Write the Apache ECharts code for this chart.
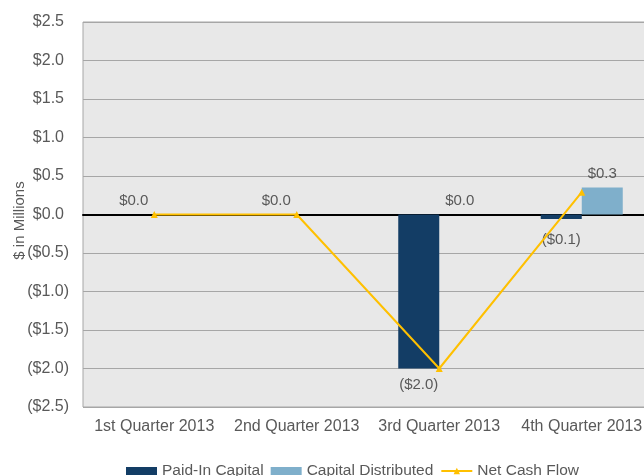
<!DOCTYPE html>
<html lang="en">
<head>
  <meta charset="utf-8">
  <title>Cash Flow by Quarter</title>
  <style>
    * { margin: 0; padding: 0; }
    #chart-container { width: 644px; height: 476px; overflow: hidden; }
  </style>
</head>
<body>
  <div id="chart-container"></div>
  <script src="https://fastly.jsdelivr.net/npm/echarts@6/dist/echarts.min.js"></script>
  <script>
    var quarters = ['1st Quarter 2013', '2nd Quarter 2013', '3rd Quarter 2013', '4th Quarter 2013'];
    var paidIn = [0, 0, -2.0, -0.06];
    var distributed = [null, null, 0, 0.35];
    var netCash = [0, 0, -2.0, 0.29];

    var dom = document.getElementById('chart-container');
    var myChart = echarts.init(dom, null, { renderer: 'canvas' });

    var textColor = '#595959';
    var font = '"Liberation Sans", Arial, sans-serif';

    function money(v) {
      if (v < 0) return '($' + Math.abs(v).toFixed(1) + ')';
      return '$' + v.toFixed(1);
    }

    // positive numbers keep a gap the width of ")" like the excel format
    function axisMoney(v) {
      if (v < 0) return money(v);
      return '{pos|' + money(v) + '}';
    }

    // negative bars get their label underneath
    function withLabels(arr) {
      return arr.map(function (v) {
        if (v === null) return null;
        if (v < 0) {
          return { value: v, label: { position: 'bottom', distance: v > -0.5 ? 13 : 9 } };
        }
        return { value: v, label: { position: 'top', distance: 6 } };
      });
    }

    var option = {
      textStyle: { fontFamily: font },
      grid: {
        left: 83, top: 22, width: 570, height: 385,
        outerBoundsMode: 'none',
        containLabel: false,
        show: true, backgroundColor: '#E8E8E8', borderColor: '#A6A6A6', borderWidth: 1
      },
      legend: {
        top: 463,
        left: 126,
        padding: 0,
        itemWidth: 31,
        itemHeight: 8,
        itemGap: 7,
        textStyle: { color: textColor, fontSize: 15.5, fontFamily: font },
        data: [
          { name: 'Paid-In Capital', icon: 'rect' },
          { name: 'Capital Distributed', icon: 'rect' },
          { name: 'Net Cash Flow' }
        ]
      },
      xAxis: {
        type: 'category',
        data: quarters,
        axisLine: { onZero: true, lineStyle: { color: '#000', width: 2 } },
        axisTick: { show: false },
        axisLabel: { color: textColor, fontSize: 16, margin: 12, fontFamily: font, interval: 0 }
      },
      yAxis: {
        type: 'value',
        min: -2.5, max: 2.5, interval: 0.5,
        name: '$ in Millions',
        nameLocation: 'middle',
        nameGap: 56,
        nameMoveOverlap: false,
        nameTextStyle: { color: textColor, fontSize: 15, fontFamily: font, padding: [0, 12, 0, 0] },
        axisLine: { show: false },
        axisTick: { show: false },
        splitLine: { lineStyle: { color: '#A6A6A6', width: 1 } },
        axisLabel: {
          color: textColor, fontSize: 16, margin: 14, fontFamily: font,
          formatter: axisMoney,
          rich: { pos: { color: textColor, fontSize: 16, fontFamily: font, padding: [0, 5, 0, 0] } }
        }
      },
      series: [
        {
          name: 'Paid-In Capital',
          type: 'bar',
          data: withLabels(paidIn),
          barWidth: 41,
          barGap: '0%',
          itemStyle: { color: '#133D65' },
          label: {
            show: true, color: textColor, fontSize: 15, fontFamily: font,
            formatter: function (p) { return money(p.value); }
          }
        },
        {
          name: 'Capital Distributed',
          type: 'bar',
          data: withLabels(distributed),
          barWidth: 41,
          barGap: '0%',
          itemStyle: { color: '#7FAFCB' },
          label: {
            show: true, color: textColor, fontSize: 15, fontFamily: font,
            formatter: function (p) { return money(p.value); }
          }
        },
        {
          name: 'Net Cash Flow',
          type: 'line',
          data: netCash,
          symbol: 'triangle',
          symbolSize: 7,
          lineStyle: { color: '#FFC000', width: 2 },
          itemStyle: { color: '#FFC000' },
          z: 5
        }
      ]
    };

    myChart.setOption(option);
    window.addEventListener('resize', myChart.resize);
  </script>
</body>
</html>
